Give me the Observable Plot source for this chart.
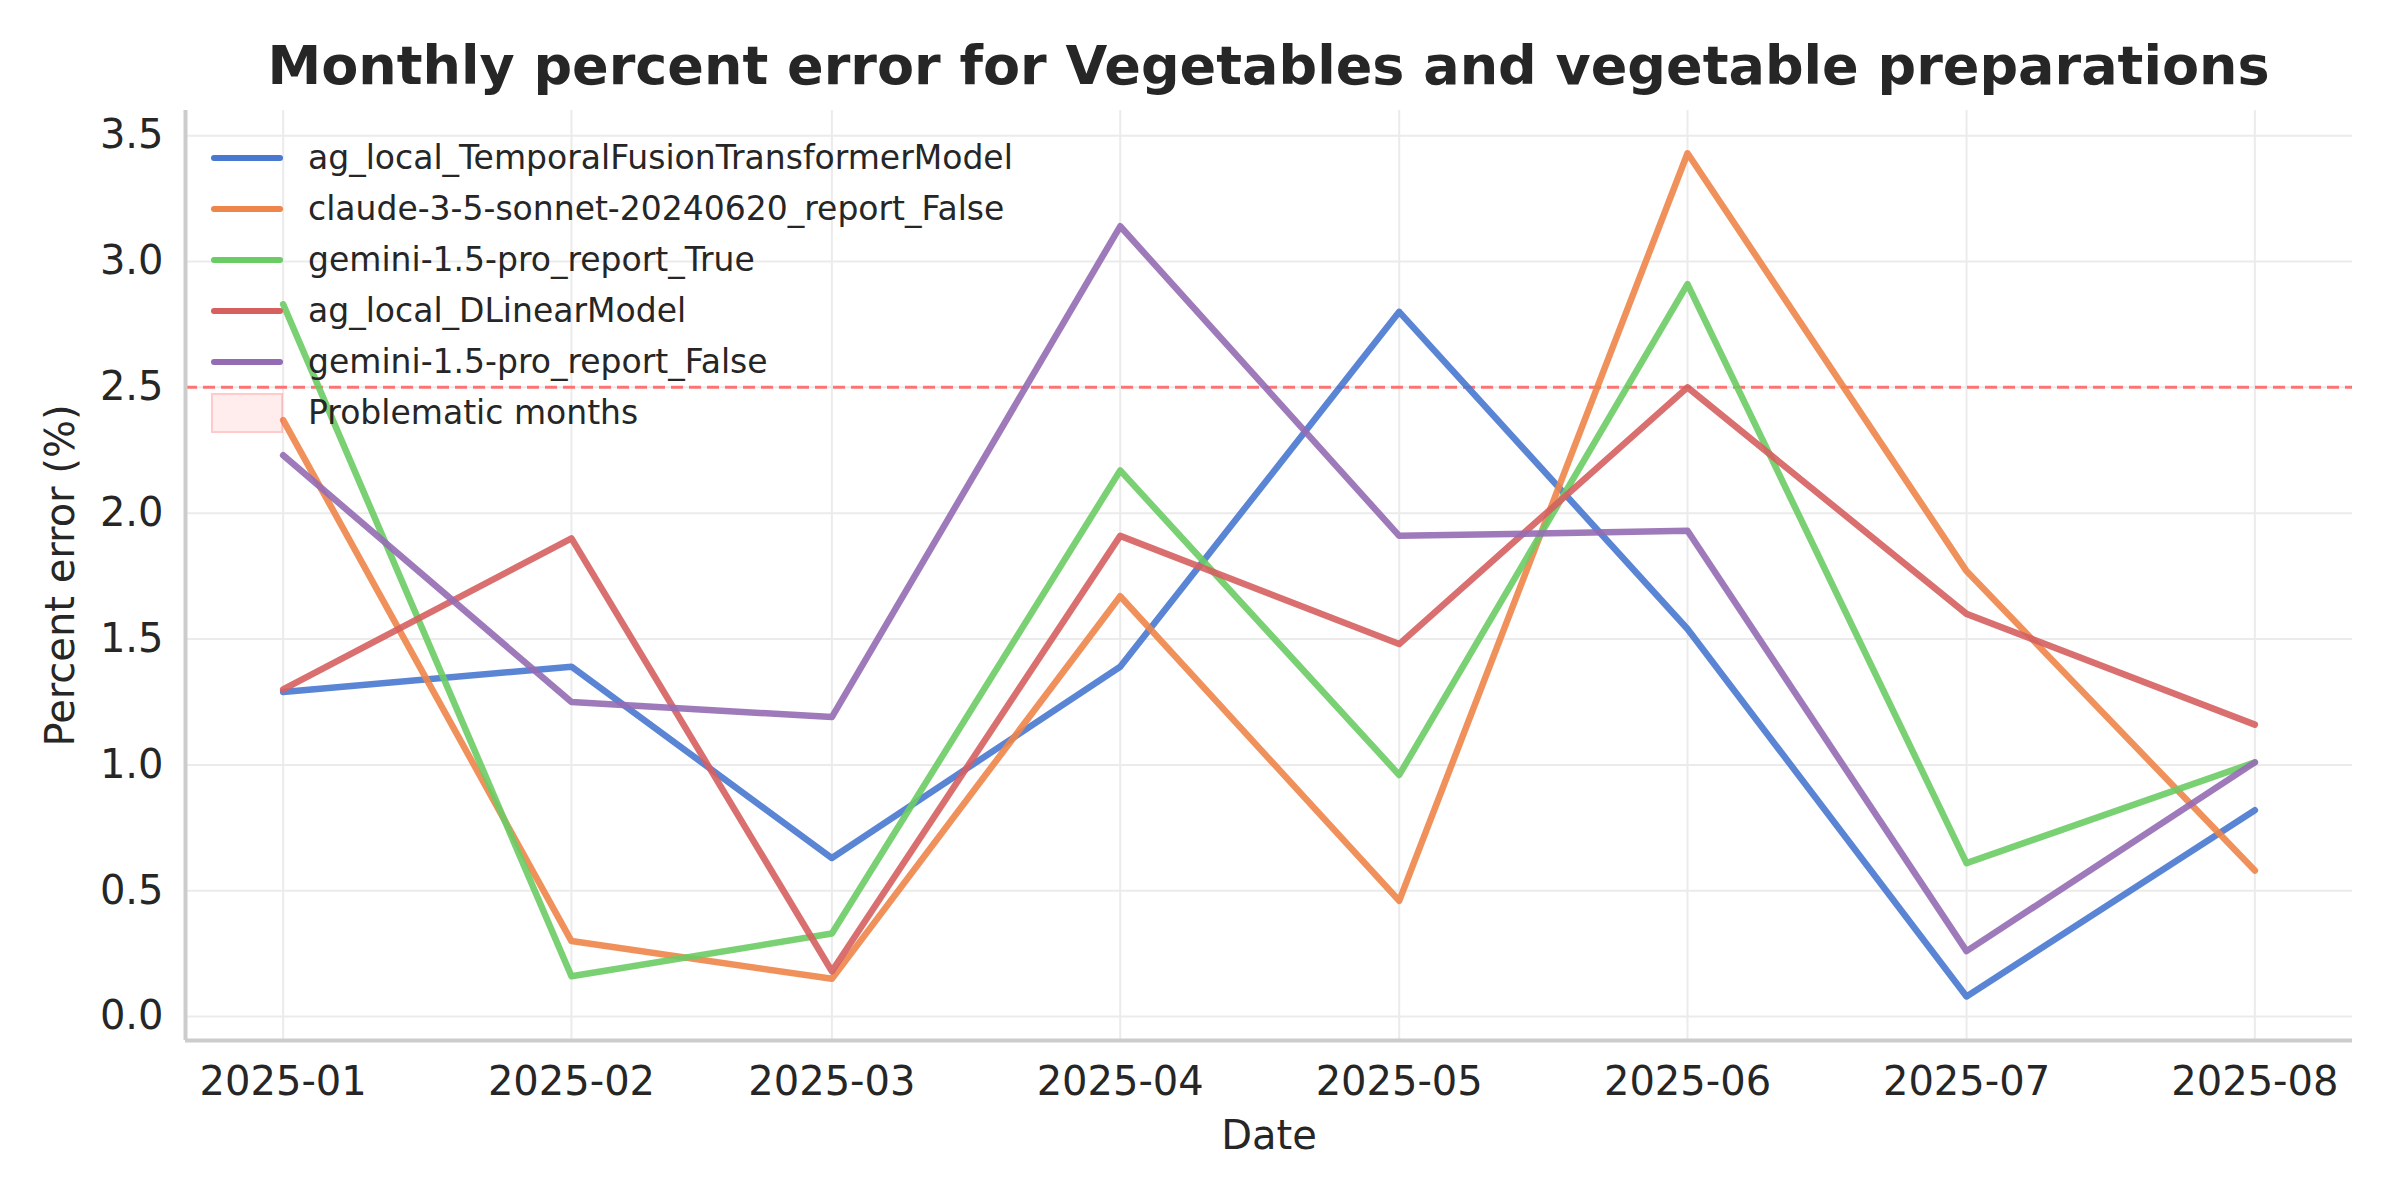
<!DOCTYPE html>
<html><head><meta charset="utf-8">
<script src="https://cdn.jsdelivr.net/npm/d3@7"></script>
<script src="https://cdn.jsdelivr.net/npm/@observablehq/plot@0.6"></script>
<style>
body{margin:0;background:#fff;font-family:"DejaVu Sans",sans-serif;}
#wrap{position:relative;width:2400px;height:1200px;}
#title{position:absolute;top:34px;left:185px;width:2167px;text-align:center;font-weight:bold;font-size:54px;color:#262626;}
#legend{position:absolute;left:211px;top:132px;font-size:33px;color:#262626;}
.row{height:51px;display:flex;align-items:center;}
.sw{width:72px;height:6px;margin-right:25px;border-radius:3px;}
</style></head><body>
<div id="wrap"><div id="chart"></div><div id="title"></div><div id="legend"></div></div>
<script>
const months = ["2025-01","2025-02","2025-03","2025-04","2025-05","2025-06","2025-07","2025-08"];
const seriesNames = ["ag_local_TemporalFusionTransformerModel","claude-3-5-sonnet-20240620_report_False","gemini-1.5-pro_report_True","ag_local_DLinearModel","gemini-1.5-pro_report_False"];
const colors = ["#4878d0","#ee854a","#6acc64","#d65f5f","#956cb4"];
const tft = [1.29,1.39,0.63,1.39,2.80,1.54,0.08,0.82];
const claude = [2.37,0.30,0.15,1.67,0.46,3.43,1.77,0.58];
const gemTrue = [2.83,0.16,0.33,2.17,0.96,2.91,0.61,1.01];
const dlinear = [1.30,1.90,0.18,1.91,1.48,2.50,1.60,1.16];
const gemFalse = [2.23,1.25,1.19,3.14,1.91,1.93,0.26,1.01];
const threshold = 2.5;
const yTicks = [0,0.5,1,1.5,2,2.5,3,3.5];
const titleText = "Monthly percent error for Vegetables and vegetable preparations";

const vals = [tft,claude,gemTrue,dlinear,gemFalse];
const dates = months.map(m=>new Date(m+"-01T00:00:00Z"));
const rows = [];
vals.forEach((v,i)=>v.forEach((y,j)=>rows.push({series:seriesNames[i],date:dates[j],y})));
const xDom = [new Date(Date.UTC(2024,11,21,12)), new Date(Date.UTC(2025,7,11,12))];
const yDom = [-0.095,3.6];

const plot = Plot.plot({
  width:2400,height:1200,
  marginLeft:185,marginRight:48,marginTop:110,marginBottom:160,
  style:{fontFamily:"DejaVu Sans",fontSize:"40px",color:"#262626",background:"#fff"},
  x:{type:"utc",domain:xDom},
  y:{domain:yDom},
  color:{domain:seriesNames,range:colors},
  marks:[
    Plot.ruleY(yTicks,{stroke:"#ebebeb",strokeWidth:2}),
    Plot.ruleX(dates,{stroke:"#ebebeb",strokeWidth:2}),
    Plot.ruleY([threshold],{stroke:"#ff5555",strokeOpacity:0.8,strokeWidth:3,strokeDasharray:"12,6"}),
    Plot.line(rows,{x:"date",y:"y",z:"series",stroke:"series",strokeWidth:6.5,strokeOpacity:0.9}),
    Plot.ruleX([xDom[0]],{stroke:"#cccccc",strokeWidth:4}),
    Plot.ruleY([yDom[0]],{stroke:"#cccccc",strokeWidth:4}),
    Plot.axisY({ticks:yTicks,tickSize:0,tickPadding:22,tickFormat:d3.format(".1f"),label:"Percent error (%)",labelAnchor:"center",labelArrow:"none",labelOffset:140,fontSize:40}),
    Plot.axisX({ticks:dates,tickSize:0,tickPadding:26,tickFormat:d3.utcFormat("%Y-%m"),label:"Date",labelAnchor:"center",labelArrow:"none",labelOffset:108,fontSize:40})
  ]
});
document.getElementById("chart").appendChild(plot);
document.getElementById("title").textContent = titleText;
const lg = document.getElementById("legend");
seriesNames.forEach((n,i)=>{
  const r=document.createElement("div");r.className="row";
  r.innerHTML=`<div class="sw" style="background:${colors[i]}"></div><span>${n}</span>`;
  lg.appendChild(r);
});
const r=document.createElement("div");r.className="row";
r.innerHTML=`<div class="sw" style="height:40px;background:rgba(255,100,100,0.12);border:2px solid rgba(255,100,100,0.25);box-sizing:border-box;border-radius:0"></div><span>Problematic months</span>`;
lg.appendChild(r);
</script></body></html>
